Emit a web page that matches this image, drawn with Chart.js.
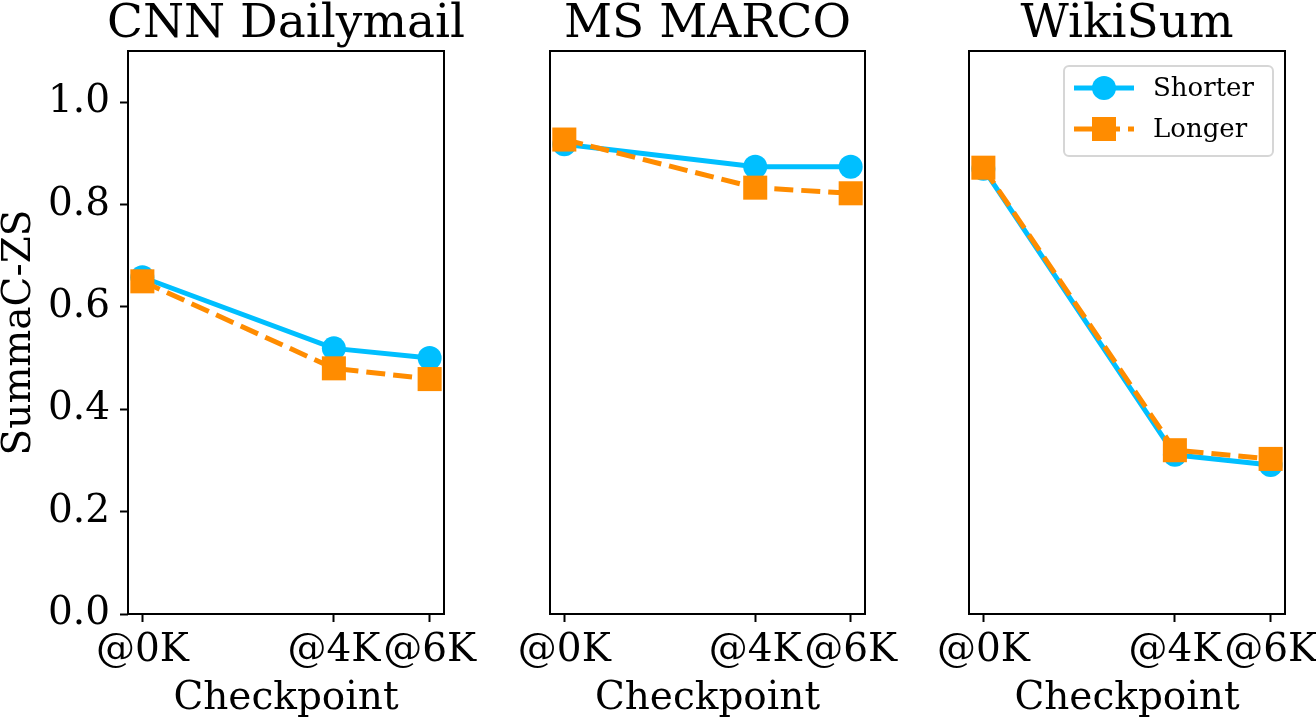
<!DOCTYPE html>
<html>
<head>
<meta charset="utf-8">
<script src="https://cdn.jsdelivr.net/npm/chart.js@4/dist/chart.umd.min.js"></script>
<style>
  html, body { margin: 0; padding: 0; background: #fff; }
  body { width: 1316px; height: 719px; position: relative; overflow: hidden; }
  .panel { position: absolute; top: 0; height: 719px; }
</style>
</head>
<body>
<div class="panel" style="left:0;width:490px"><canvas id="c1"></canvas></div>
<div class="panel" style="left:500px;width:410px"><canvas id="c2"></canvas></div>
<div class="panel" style="left:920px;width:396px"><canvas id="c3"></canvas></div>
<script>
// data
const checkpoints = [0, 4, 6];
const tickLabels = ['@0K', '@4K', '@6K'];
const yTicks = [0, 0.2, 0.4, 0.6, 0.8, 1.0];

const titles = ['CNN Dailymail', 'MS MARCO', 'WikiSum'];
const shorterCnn = [0.658, 0.519, 0.500];
const longerCnn = [0.650, 0.480, 0.459];
const shorterMarco = [0.918, 0.874, 0.874];
const longerMarco = [0.927, 0.833, 0.822];
const shorterWiki = [0.870, 0.311, 0.291];
const longerWiki = [0.872, 0.320, 0.303];

const BLUE = '#00BFFF';
const ORANGE = '#FF8C00';
const FONT = "'DejaVu Serif', serif";

Chart.defaults.font.family = FONT;
Chart.defaults.color = '#000';

// full frame around the plot area + panel title centred over it
const framePlugin = {
    id: 'frame',
    afterDraw(chart, args, opts) {
        const a = chart.chartArea;
        const ctx = chart.ctx;
        ctx.save();
        ctx.strokeStyle = '#000';
        ctx.lineWidth = 2;
        ctx.strokeRect(a.left, a.top, a.right - a.left, a.bottom - a.top);
        ctx.fillStyle = '#000';
        ctx.font = '47px ' + FONT;
        ctx.textAlign = 'center';
        ctx.textBaseline = 'alphabetic';
        ctx.fillText(opts.title, (a.left + a.right) / 2, 37);
        ctx.restore();
    }
};

// legend drawn inside the plot area, top right
const innerLegend = {
    id: 'innerLegend',
    afterDraw(chart, args, opts) {
        if (!opts.show) return;
        const a = chart.chartArea;
        const ctx = chart.ctx;
        const w = 209, h = 90;
        const x = a.right - 12 - w, y = a.top + 15;
        ctx.save();
        ctx.fillStyle = 'rgba(255,255,255,0.8)';
        ctx.strokeStyle = '#d6d6d6';
        ctx.lineWidth = 2;
        ctx.beginPath();
        ctx.roundRect(x, y, w, h, 5);
        ctx.fill();
        ctx.stroke();
        const rows = [y + 22, y + 63];
        chart.data.datasets.forEach((ds, i) => {
            const cy = rows[i];
            ctx.strokeStyle = ds.borderColor;
            ctx.lineWidth = 5;
            ctx.setLineDash(ds.borderDash || []);
            ctx.beginPath();
            ctx.moveTo(x + 10, cy);
            ctx.lineTo(x + 70, cy);
            ctx.stroke();
            ctx.setLineDash([]);
            ctx.fillStyle = ds.backgroundColor;
            if (ds.pointStyle === 'circle') {
                ctx.beginPath();
                ctx.arc(x + 40, cy, 12, 0, Math.PI * 2);
                ctx.fill();
            } else {
                ctx.fillRect(x + 28, cy - 12, 24, 24);
            }
            ctx.fillStyle = '#000';
            ctx.font = '26px ' + FONT;
            ctx.textBaseline = 'middle';
            ctx.textAlign = 'left';
            ctx.fillText(ds.label, x + 89, cy + 1);
        });
        ctx.restore();
    }
};

function makeChart(id, title, shorter, longer, first, pad, legend) {
    const xy = vals => checkpoints.map((c, i) => ({ x: c, y: vals[i] }));
    return new Chart(document.getElementById(id), {
        type: 'line',
        data: {
            datasets: [
                {
                    label: 'Shorter',
                    data: xy(shorter),
                    borderColor: BLUE,
                    backgroundColor: BLUE,
                    borderWidth: 5,
                    pointStyle: 'circle',
                    pointRadius: 12,
                    pointBorderWidth: 0,
                    order: 1
                },
                {
                    label: 'Longer',
                    data: xy(longer),
                    borderColor: ORANGE,
                    backgroundColor: ORANGE,
                    borderWidth: 5,
                    borderDash: [19, 8],
                    pointStyle: 'rect',
                    pointRadius: 17,
                    pointBorderWidth: 0,
                    order: 0
                }
            ]
        },
        options: {
            responsive: true,
            maintainAspectRatio: false,
            animation: false,
            clip: false,
            layout: { padding: pad },
            plugins: {
                legend: { display: false },
                tooltip: { enabled: false },
                title: { display: false },
                frame: { title: title },
                innerLegend: { show: legend }
            },
            scales: {
                x: {
                    type: 'linear',
                    min: -0.3,
                    max: 6.3,
                    afterBuildTicks: s => { s.ticks = checkpoints.map(v => ({ value: v })); },
                    afterFit: s => { s.height = 105; s.paddingLeft = 0; s.paddingRight = 0; },
                    ticks: {
                        callback: v => tickLabels[checkpoints.indexOf(v)],
                        font: { size: 39 },
                        padding: 5,
                        maxRotation: 0,
                        autoSkip: false
                    },
                    grid: { drawOnChartArea: false, drawTicks: true, tickLength: 8, tickWidth: 2, color: '#000' },
                    border: { display: false },
                    title: { display: true, text: 'Checkpoint', font: { size: 39, lineHeight: 1.0 }, padding: { top: 0, bottom: 1 } }
                },
                y: {
                    display: first,
                    min: 0,
                    max: 1.1,
                    afterBuildTicks: s => { s.ticks = yTicks.map(v => ({ value: v })); },
                    afterFit: s => { if (first) { s.width = 128; } s.paddingTop = 0; s.paddingBottom = 0; },
                    ticks: {
                        callback: v => v.toFixed(1),
                        font: { size: 39 },
                        padding: 10
                    },
                    grid: { drawOnChartArea: false, drawTicks: true, tickLength: 8, tickWidth: 2, color: '#000' },
                    border: { display: false },
                    title: { display: true, text: 'SummaC-ZS', font: { size: 39, lineHeight: 1.0 }, padding: 0 }
                }
            }
        },
        plugins: [framePlugin, innerLegend]
    });
}

makeChart('c1', titles[0], shorterCnn, longerCnn, true, { left: 0, right: 46, top: 51, bottom: 0 }, false);
makeChart('c2', titles[1], shorterMarco, longerMarco, false, { left: 50, right: 45, top: 51, bottom: 0 }, false);
makeChart('c3', titles[2], shorterWiki, longerWiki, false, { left: 49, right: 31, top: 51, bottom: 0 }, true);
</script>
</body>
</html>
